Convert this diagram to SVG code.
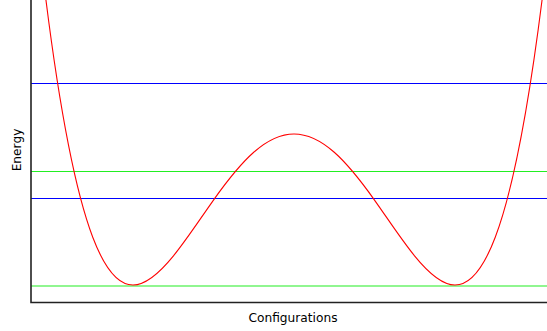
<svg xmlns="http://www.w3.org/2000/svg" width="547" height="331" viewBox="0 0 547 331">
<style>
.lvl{stroke-width:1.2;fill:none}
.b{stroke:#0000ff}
.g{stroke:#22ee22}
.ax{stroke:#222;stroke-width:1.6;fill:none}
.t{font-family:"DejaVu Sans",sans-serif;font-size:12.2px;fill:#000}
</style>
<rect width="547" height="331" fill="#fff"/>
<g id="levels">
<line class="lvl b" x1="31" y1="83.5" x2="547" y2="83.5"/>
<line class="lvl g" x1="31" y1="171.5" x2="547" y2="171.5"/>
<line class="lvl b" x1="31" y1="198.5" x2="547" y2="198.5"/>
<line class="lvl g" x1="31" y1="286" x2="547" y2="286"/>
</g>
<g id="curve">
<path fill="none" stroke="#ff0000" stroke-width="1.1" d="M 42.84,-25.3 C 59.48,114.28 76.11,193.34 92.75,237.22 C 106.17,272.61 119.58,285 133,285 C 146.42,285 159.83,272.62 173.25,256.1 C 186.67,239.58 200.08,218.94 213.5,200.06 C 226.92,181.19 240.33,164.08 253.75,152.28 C 267.17,140.48 280.58,134 294,134 C 307.42,134 320.83,140.48 334.25,152.28 C 347.67,164.08 361.08,181.19 374.5,200.06 C 387.92,218.94 401.33,239.58 414.75,256.1 C 428.17,272.62 441.58,285 455,285 C 468.42,285 481.83,272.61 495.25,237.22 C 511.89,193.34 528.52,114.28 545.16,-25.3"/>
</g>
<g id="axes">
<path class="ax" d="M31,0 V302.5 H547"/>
</g>
<text class="t" x="293" y="322" text-anchor="middle">Configurations</text>
<text class="t" transform="translate(21,150) rotate(-90)" text-anchor="middle">Energy</text>
</svg>
